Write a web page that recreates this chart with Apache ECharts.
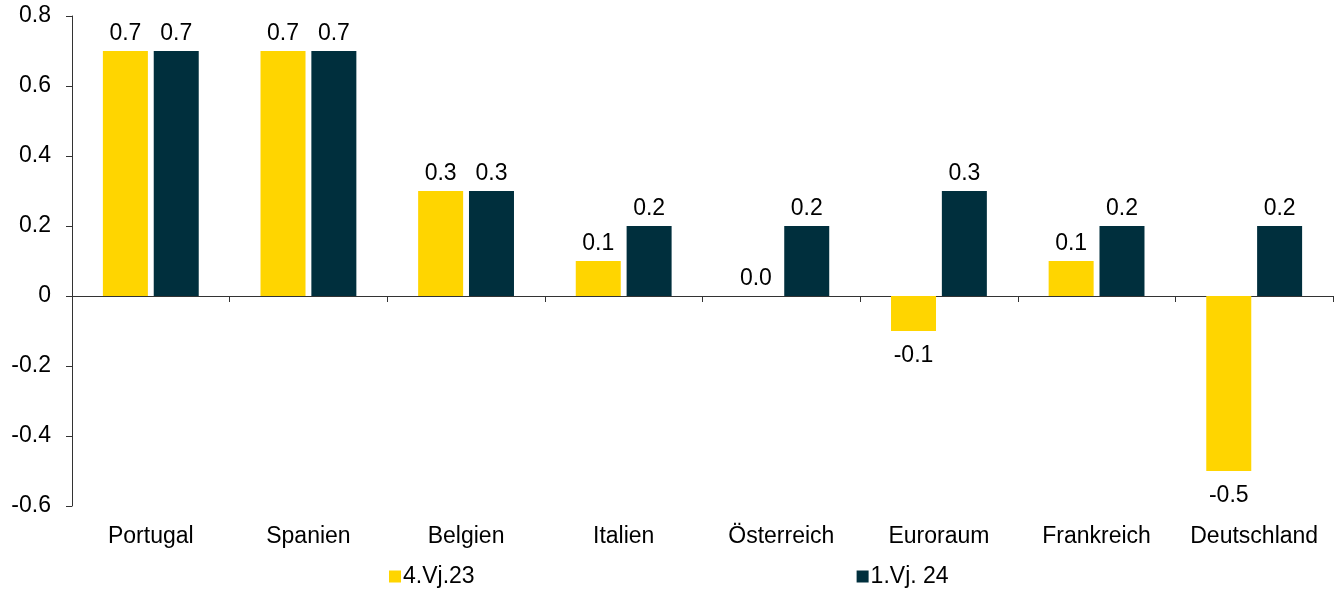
<!DOCTYPE html>
<html>
<head>
<meta charset="utf-8">
<script src="https://cdn.jsdelivr.net/npm/echarts@6/dist/echarts.min.js"></script>
<style>
  html, body { margin: 0; padding: 0; background: #fff; }
  #chart { width: 1338px; height: 595px; }
</style>
</head>
<body>
<div id="chart"></div>
<script>
// categories and values
const countries = ['Portugal', 'Spanien', 'Belgien', 'Italien', 'Österreich', 'Euroraum', 'Frankreich', 'Deutschland'];
const q4_23 = [0.7, 0.7, 0.3, 0.1, 0.0, -0.1, 0.1, -0.5];
const q1_24 = [0.7, 0.7, 0.3, 0.2, 0.2, 0.3, 0.2, 0.2];
const yTicks = { min: -0.6, max: 0.8, interval: 0.2 };

const FONT = 'Liberation Sans, Arial, sans-serif';
const FS = 23;

// negative bars get their label underneath
const withLabels = (arr) => arr.map(v => ({
  value: v,
  label: v < 0 ? { position: 'bottom', distance: 13 } : { position: 'top', distance: 6 }
}));

const myChart = echarts.init(document.getElementById('chart'));
myChart.setOption({
  animation: false,
  textStyle: { fontFamily: FONT },
  grid: { left: 72, right: 5, top: 16, bottom: 89, containLabel: false },
  legend: {
    bottom: 2,
    left: 384,
    itemWidth: 12,
    itemHeight: 12,
    itemGap: 382,
    icon: 'rect',
    textStyle: { fontSize: FS, color: '#000', fontFamily: FONT, padding: [0, 0, 0, -3] },
    data: ['4.Vj.23', '1.Vj. 24']
  },
  xAxis: [
    {
      type: 'category',
      data: countries,
      axisLine: { onZero: true, lineStyle: { color: '#333', width: 1 } },
      axisTick: { show: true, length: 6, lineStyle: { color: '#333' } },
      axisLabel: { show: false }
    },
    {
      type: 'category',
      data: countries,
      position: 'bottom',
      axisLine: { show: false, onZero: false },
      axisTick: { show: false },
      axisLabel: { fontSize: FS, color: '#000', fontFamily: FONT, margin: 19, interval: 0 }
    }
  ],
  yAxis: {
    type: 'value',
    min: yTicks.min,
    max: yTicks.max,
    interval: yTicks.interval,
    splitLine: { show: false },
    axisLine: { show: true, lineStyle: { color: '#333' } },
    axisTick: { show: true, length: 6, lineStyle: { color: '#333' } },
    axisLabel: {
      fontSize: FS, color: '#000', fontFamily: FONT, margin: 21,
      formatter: v => (Math.abs(v) < 1e-9 ? '0' : v.toFixed(1))
    }
  },
  series: [
    {
      name: '4.Vj.23',
      type: 'bar',
      xAxisIndex: 0,
      barWidth: 45,
      barGap: '13%',
      itemStyle: { color: '#FFD500' },
      label: {
        show: true, fontSize: FS, color: '#000', fontFamily: FONT,
        formatter: p => p.value.toFixed(1)
      },
      data: withLabels(q4_23)
    },
    {
      name: '1.Vj. 24',
      type: 'bar',
      xAxisIndex: 0,
      barWidth: 45,
      itemStyle: { color: '#002F3D' },
      label: {
        show: true, fontSize: FS, color: '#000', fontFamily: FONT,
        formatter: p => p.value.toFixed(1)
      },
      data: withLabels(q1_24)
    }
  ]
});
</script>
</body>
</html>
